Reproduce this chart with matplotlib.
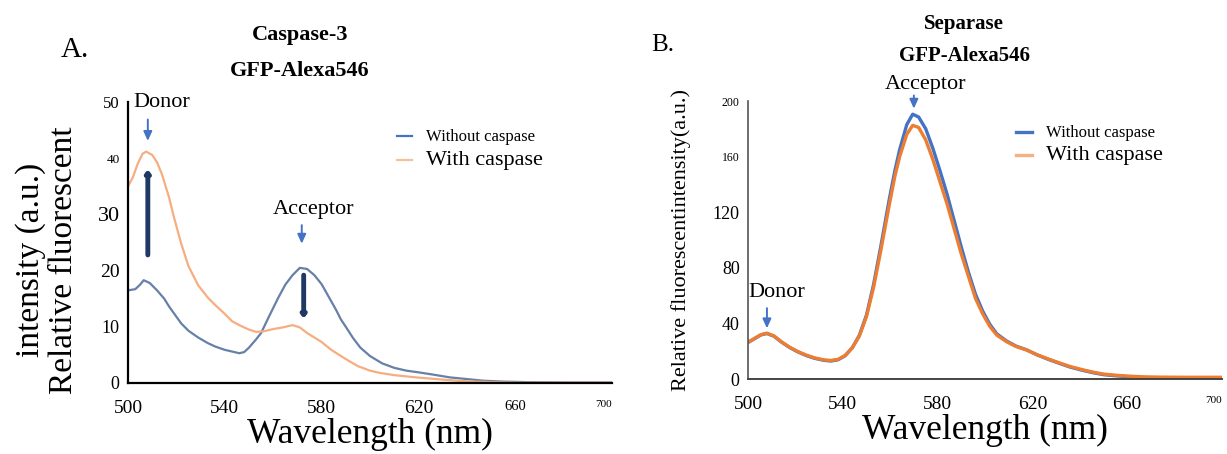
import matplotlib
matplotlib.use("Agg")
import matplotlib.pyplot as plt

plt.rcParams['font.family'] = ['Liberation Serif', 'DejaVu Serif']

# ---- Panel A: Caspase-3 ----
wl_a_without = [500, 503, 505, 506.5, 509, 512, 515, 517, 520, 522, 525, 529, 533,
                536, 540, 544, 546, 548, 550, 553, 555, 558, 562, 565, 568, 571,
                574, 577, 580, 583, 586, 588, 590, 593, 596, 600, 605, 610, 615,
                620, 626, 633, 640, 647, 655, 665, 680, 700]
a_without = [16.5, 16.7, 17.5, 18.3, 17.8, 16.5, 15.0, 13.6, 11.8, 10.6, 9.3, 8.1, 7.1,
             6.5, 5.9, 5.5, 5.3, 5.5, 6.3, 7.8, 8.9, 11.6, 15.1, 17.5, 19.2, 20.5,
             20.3, 19.2, 17.6, 15.3, 13.0, 11.3, 10.0, 8.0, 6.3, 4.8, 3.5, 2.7, 2.2,
             1.9, 1.5, 1.0, 0.7, 0.4, 0.25, 0.15, 0.1, 0.1]

wl_a_with = [500, 502, 504, 506, 507.5, 510, 512, 514, 517, 519, 522, 525, 529, 533,
             536, 540, 543, 546, 550, 553, 556, 560, 564, 568, 571, 574, 577, 580,
             584, 588, 591, 595, 600, 604, 610, 619, 630, 640, 650, 660, 680, 700]
a_with = [35.0, 36.6, 39.0, 40.8, 41.2, 40.6, 39.3, 37.2, 33.0, 29.5, 24.8, 20.8, 17.4, 15.2,
          13.9, 12.3, 11.0, 10.3, 9.5, 9.1, 9.2, 9.6, 9.9, 10.3, 9.9, 8.9, 8.1, 7.3,
          5.9, 4.8, 4.0, 3.0, 2.2, 1.8, 1.4, 1.0, 0.6, 0.3, 0.15, 0.05, 0.05, 0.05]

# ---- Panel B: Separase ----
wl_b = [500, 503, 505.5, 508, 511, 514, 517.5, 521, 524.5, 528, 532, 535, 538, 541,
        544, 547, 550, 553, 556, 559.7, 562, 564, 567, 569.5, 572, 575, 578, 581,
        584, 587, 590, 593, 596, 599, 602, 605, 609, 613, 617.6, 622, 627, 631.6,
        636, 641, 645.6, 650, 655, 660, 667, 674, 685, 700]
b_with = [26.5, 29.5, 32, 33, 31, 27, 23, 19.8, 17.3, 15.3, 13.8, 13.4, 14.2, 17,
          22.5, 31, 45, 66, 92, 126, 146, 160, 176, 182.5, 181, 172, 158, 142,
          126, 108, 90, 74, 58, 47, 38, 31.6, 27, 23.5, 20.9, 17.5, 14.3, 11.5,
          9.0, 6.8, 5.0, 3.6, 2.8, 2.2, 1.6, 1.4, 1.3, 1.3]
b_without = [26.3, 29.3, 31.8, 32.8, 30.8, 26.8, 22.8, 19.6, 17.0, 15.0, 13.5, 13.0, 13.9, 16.8,
             22.5, 31.5, 46, 68, 95, 130, 150, 165, 183, 190.5, 188.5, 180, 166, 150,
             133, 114, 95, 77, 61, 49, 39.5, 32.5, 27.5, 23.8, 21, 17.4, 14.0, 11.2,
             8.6, 6.4, 4.6, 3.2, 2.4, 1.8, 1.1, 0.9, 0.9, 0.9]

a_xticks = [500, 540, 580, 620, 660, 700]
a_xsizes = [14, 14, 14, 14, 10.5, 8]
a_yticks = [0, 10, 20, 30, 40, 50]
a_ysizes = [13, 13, 14, 16, 9.5, 12]
b_xticks = [500, 540, 580, 620, 660, 700]
b_xsizes = [14, 14, 14, 14, 14, 8]
b_yticks = [0, 40, 80, 120, 160, 200]
b_ysizes = [13, 13, 13, 13, 8.5, 8.5]

fig = plt.figure(figsize=(12.27, 4.54), dpi=100)

axA = fig.add_axes([0.1043, 0.1564, 0.3945, 0.6186])
axB = fig.add_axes([0.6096, 0.165, 0.3863, 0.6125])

# panel A curves
axA.plot(wl_a_without, a_without, color='#6680a8', lw=1.6, label='Without caspase')
axA.plot(wl_a_with, a_with, color='#f6ae80', lw=1.6, label='With caspase')
axA.set_xlim(500, 700)
axA.set_ylim(0, 50)

# panel B curves
axB.plot(wl_b, b_without, color='#4472c4', lw=2.4, label='Without caspase')
axB.plot(wl_b, b_with, color='#ed7d31', lw=2.4, label='With caspase')
axB.set_xlim(500, 700)
axB.set_ylim(0, 200)

for ax, xt, xs, yt, ys in [(axA, a_xticks, a_xsizes, a_yticks, a_ysizes),
                           (axB, b_xticks, b_xsizes, b_yticks, b_ysizes)]:
    for s in ['top', 'right']:
        ax.spines[s].set_visible(False)
    ax.set_xticks(xt)
    ax.set_yticks(yt)
    ax.set_xticklabels([str(t) for t in xt])
    ax.set_yticklabels([str(t) for t in yt])
    ax.tick_params(length=0)
    ax.tick_params(axis='x', pad=12)
    ax.tick_params(axis='y', pad=6)
    for lab, s in zip(ax.get_xticklabels(), xs):
        lab.set_fontsize(s)
    for lab, s in zip(ax.get_yticklabels(), ys):
        lab.set_fontsize(s)
    ax.get_xticklabels()[-1].set_horizontalalignment('right')
    ax.set_xlabel('Wavelength (nm)', fontsize=25.5, labelpad=1)

axA.spines['left'].set_linewidth(1.6)
axA.spines['bottom'].set_linewidth(1.6)
axB.spines['left'].set_color('#555555')
axB.spines['bottom'].set_color('#444444')
axB.spines['left'].set_linewidth(1.2)
axB.spines['bottom'].set_linewidth(1.4)

# legends
legA = axA.legend(loc='upper left', bbox_to_anchor=(0.53, 0.95), frameon=False,
                  handlelength=1.1, handletextpad=1.0, labelspacing=0.45)
legA.get_lines()[0].set_color('#4472c4')
legA.get_lines()[1].set_color('#f8c09a')
legA.get_texts()[0].set_fontsize(12)
legA.get_texts()[1].set_fontsize(16)
legB = axB.legend(loc='upper left', bbox_to_anchor=(0.54, 0.96), frameon=False,
                  handlelength=1.1, handletextpad=1.0, labelspacing=0.4)
legB.get_lines()[1].set_color('#f4b183')
legB.get_texts()[0].set_fontsize(12)
legB.get_texts()[1].set_fontsize(16)

# annotations panel A
arrow_blue = dict(arrowstyle='-|>,head_length=0.55,head_width=0.25', color='#4472c4', lw=1.4)
axA.text(514, 50.0, 'Donor', fontsize=16, ha='center', va='center', clip_on=False)
axA.annotate('', xy=(508.2, 42.6), xytext=(508.2, 47.4), arrowprops=arrow_blue,
             annotation_clip=False)
axA.text(576.5, 30.8, 'Acceptor', fontsize=16, ha='center', va='center')
axA.annotate('', xy=(571.8, 24.3), xytext=(571.8, 28.6), arrowprops=arrow_blue)
arrow_navy = dict(arrowstyle='-|>,head_length=0.15,head_width=0.12', color='#1f3864', lw=3.5,
                  shrinkA=0, shrinkB=0)
axA.annotate('', xy=(508.2, 38.0), xytext=(508.2, 22.8), arrowprops=arrow_navy)
axA.annotate('', xy=(572.6, 11.5), xytext=(572.6, 19.2), arrowprops=arrow_navy)

# annotations panel B
axB.text(575, 212, 'Acceptor', fontsize=16, ha='center', va='center', clip_on=False)
axB.annotate('', xy=(570, 192.5), xytext=(570, 206), arrowprops=arrow_blue,
             annotation_clip=False)
axB.text(512, 62, 'Donor', fontsize=16, ha='center', va='center')
axB.annotate('', xy=(508, 34.5), xytext=(508, 53), arrowprops=arrow_blue)

# titles and labels
fig.text(75 / 1227, 1 - 50 / 454, 'A.', fontsize=21, ha='center', va='center')
fig.text(300 / 1227, 1 - 35 / 454, 'Caspase-3', fontsize=16, fontweight='bold',
         ha='center', va='center')
fig.text(300 / 1227, 1 - 71 / 454, 'GFP-Alexa546', fontsize=16, fontweight='bold',
         ha='center', va='center')
fig.text(47 / 1227, 1 - 260 / 454, 'intensity (a.u.)\nRelative fluorescent', fontsize=24,
         rotation=90, ha='center', va='center', multialignment='center', linespacing=1.12)

fig.text(663 / 1227, 1 - 45 / 454, 'B.', fontsize=18, ha='center', va='center')
fig.text(964 / 1227, 1 - 24 / 454, 'Separase', fontsize=15, fontweight='bold',
         ha='center', va='center')
fig.text(965 / 1227, 1 - 56 / 454, 'GFP-Alexa546', fontsize=15, fontweight='bold',
         ha='center', va='center')
fig.text(681 / 1227, 1 - 240 / 454, 'Relative fluorescentintensity(a.u.)', fontsize=16,
         rotation=90, ha='center', va='center')

fig.savefig('out.png', dpi=100)
